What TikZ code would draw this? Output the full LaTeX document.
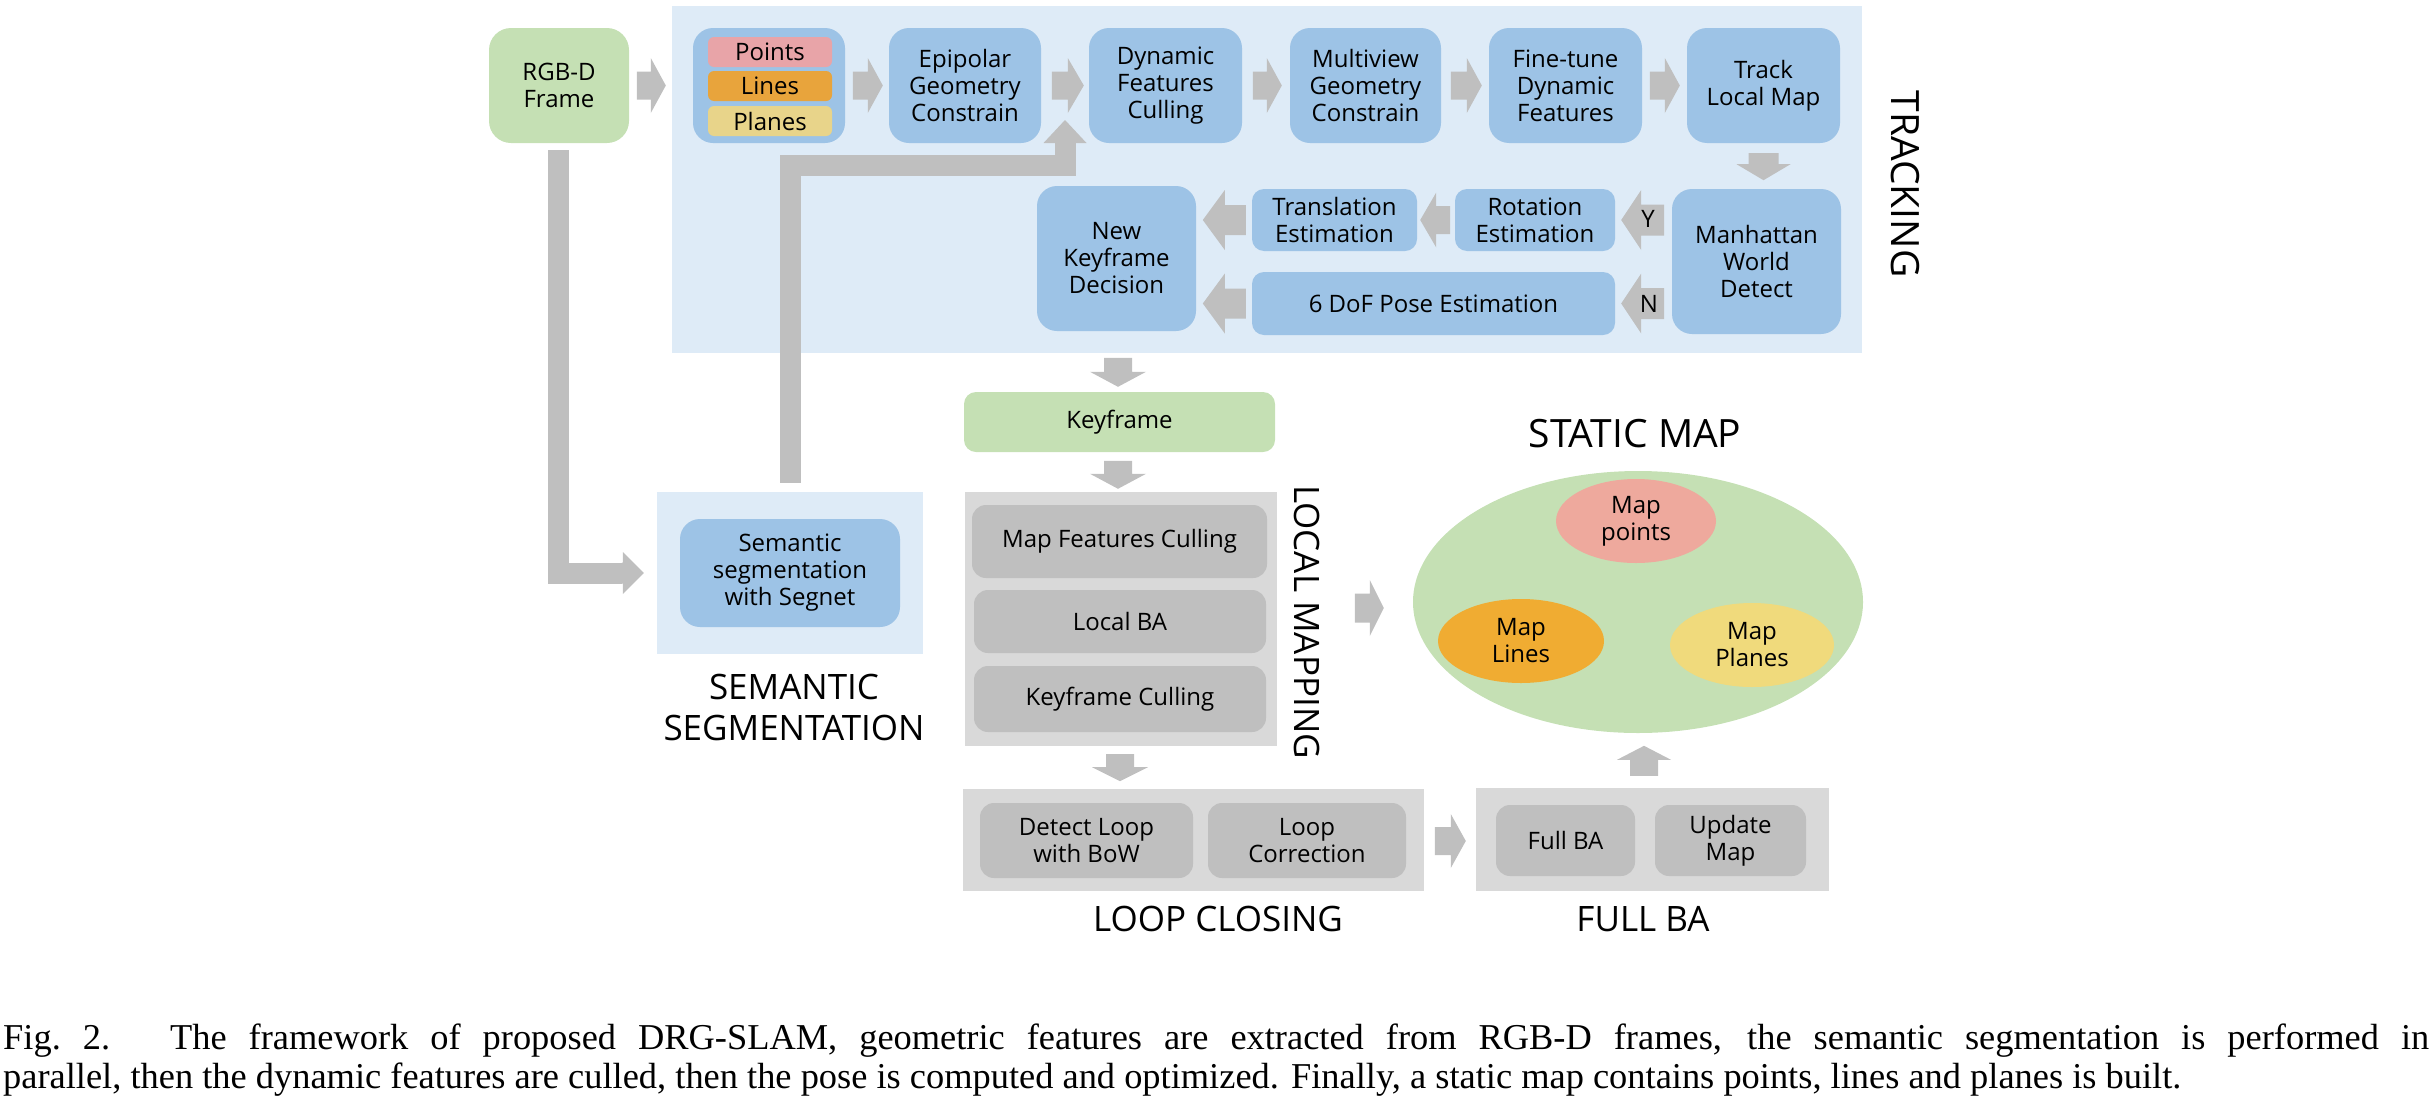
\documentclass[tikz,border=0pt]{standalone}
\usepackage{fontspec}
\setmainfont{Open Sans}
\newfontfamily\capserif{Liberation Serif}
\usetikzlibrary{calc,shapes.geometric}
\definecolor{trackbg}{HTML}{DEEBF7}
\definecolor{blueC}{HTML}{9DC3E6}
\definecolor{greenC}{HTML}{C5E0B4}
\definecolor{arrowgray}{HTML}{BFBFBF}
\definecolor{panelgray}{HTML}{D9D9D9}
\definecolor{innergray}{HTML}{BFBFBF}
\definecolor{pointsC}{HTML}{E8A4A8}
\definecolor{linesC}{HTML}{E8A43C}
\definecolor{planesC}{HTML}{E8D48A}
\definecolor{mpointsC}{HTML}{EEA99D}
\definecolor{mlinesC}{HTML}{F0AC32}
\definecolor{mplanesC}{HTML}{F0DA7C}
\newcommand{\boxfont}{\fontsize{24}{27}\selectfont}
\newcommand{\labfont}{\fontsize{35}{41}\selectfont}
\newcommand{\biglabfont}{\fontsize{39}{44}\selectfont}
% tip, angle, total length, head length, shaft half width, head half width
\newcommand{\blockarrow}[6]{%
  \fill[arrowgray, shift={#1}, rotate=#2] (0,0) -- (-#4,#6) -- (-#4,#5) -- (-#3,#5)
     -- (-#3,-#5) -- (-#4,-#5) -- (-#4,-#6) -- cycle;}
\begin{document}
\begin{tikzpicture}[x=1pt,y=-1pt,
  sz/.style 2 args={minimum width=#1pt, minimum height=#2pt},
  box/.style={inner sep=0pt, align=center, font=\boxfont, text=black},
  bluebox/.style={box, fill=blueC, rounded corners=20pt},
  smallblue/.style={box, fill=blueC, rounded corners=12pt},
  greenbox/.style={box, fill=greenC, rounded corners=22pt},
  graybox/.style={box, fill=innergray, rounded corners=14pt},
  featbox/.style={box, rounded corners=6pt},
  panel/.style={inner sep=0pt},
  lab/.style={font=\labfont, inner sep=0pt, align=center},
  biglab/.style={font=\biglabfont, inner sep=0pt},
  shaft/.style={draw=arrowgray, line width=21pt, line join=miter},
  capt/.style={anchor=base west, inner sep=0pt, font=\capserif\fontsize{36.4}{39}\selectfont}
]
\useasboundingbox (0,0) rectangle (2432,1106);

% ---------- panels ----------
\node[panel, fill=trackbg, sz={1190}{347}] (trk) at (1267,179.5) {};
\node[panel, fill=trackbg, sz={266}{162}] (sembg) at (790,573) {};
\node[panel, fill=panelgray, sz={312}{254}] (lm) at (1121,619) {};
\node[panel, fill=panelgray, sz={461}{102}] (lc) at (1193.5,840) {};
\node[panel, fill=panelgray, sz={353}{103}] (fba) at (1652.5,839.5) {};
\node[panel, ellipse, fill=greenC, sz={450}{262}] (map) at (1638,602) {};

% ---------- tracking ----------
\node[greenbox, sz={140}{115}] (rgbd) at (559,85.5) {RGB-D\\Frame};
\node[bluebox, sz={152}{115}] (grp) at (769,85.5) {};
\node[featbox, fill=pointsC, sz={124}{30}] (pts) at (770,52) {Points};
\node[featbox, fill=linesC, sz={124}{30}] (lns) at (770,86) {Lines};
\node[featbox, fill=planesC, sz={124}{30}] (pls) at (770,121) {Planes};
\node[bluebox, sz={152}{115}] (epi) at (965,85.5) {Epipolar\\Geometry\\Constrain};
\node[bluebox, sz={153}{115}] (dyn) at (1165.5,85.5) {Dynamic\\Features\\Culling};
\node[bluebox, sz={151}{115}] (mvg) at (1365.5,85.5) {Multiview\\Geometry\\Constrain};
\node[bluebox, sz={153}{115}] (fine) at (1565.5,85.5) {Fine-tune\\Dynamic\\Features};
\node[bluebox, sz={153}{115}] (track) at (1763.5,85.5) {Track\\Local Map};
\node[bluebox, sz={169}{145}] (manh) at (1756.5,261.5) {Manhattan\\World\\Detect};
\node[smallblue, sz={160}{62}] (rot) at (1535,220) {Rotation\\Estimation};
\node[smallblue, sz={165}{62}] (trans) at (1334.5,220) {Translation\\Estimation};
\node[smallblue, sz={363}{63}] (pose) at (1433.5,303.5) {6 DoF Pose Estimation};
\node[bluebox, sz={159}{145}] (nkf) at (1116.5,258.5) {New\\Keyframe\\Decision};
\node[biglab, rotate=-90] (trklab) at (1905,184) {TRACKING};

% ---------- semantic ----------
\node[bluebox, sz={220}{108}] (seg) at (790,573) {Semantic\\segmentation\\with Segnet};
\node[lab] (semlab) at (794,707) {SEMANTIC\\SEGMENTATION};

% ---------- local mapping ----------
\node[box, fill=greenC, rounded corners=12pt, sz={311}{60}] (kf) at (1119.5,422) {Keyframe};
\node[graybox, sz={295}{73}] (mfc) at (1119.5,541.5) {Map Features Culling};
\node[graybox, sz={292}{63}] (lba) at (1120,621.5) {Local BA};
\node[graybox, sz={292}{66}] (kfc) at (1120,699) {Keyframe Culling};
\node[lab, rotate=-90] (lmlab) at (1307,622) {LOCAL MAPPING};

% ---------- loop closing ----------
\node[graybox, sz={213}{75}] (det) at (1086.5,840.5) {Detect Loop\\with BoW};
\node[graybox, sz={198}{75}] (lcor) at (1307,840.5) {Loop\\Correction};
\node[lab] (lclab) at (1218,919) {LOOP CLOSING};

% ---------- full BA ----------
\node[graybox, sz={139}{71}] (fullba) at (1565.5,840.5) {Full BA};
\node[graybox, sz={151}{71}] (upd) at (1730.5,840.5) {Update\\Map};
\node[lab] (fbalab) at (1643,919) {FULL BA};

% ---------- static map ----------
\node[biglab] (smlab) at (1635,434) {STATIC MAP};
\node[box, ellipse, fill=mpointsC, sz={160}{84}] (mp) at (1636,521) {Map\\points};
\node[box, ellipse, fill=mlinesC, sz={166}{84}] (ml) at (1521,641) {Map\\Lines};
\node[box, ellipse, fill=mplanesC, sz={164}{84}] (mpl) at (1752,645) {Map\\Planes};

% ---------- arrows ----------
\blockarrow{($(grp.west)+(-27,0)$)}{0}{29}{15}{14}{27.5}
\blockarrow{($(epi.west)+(-6,0)$)}{0}{30}{15}{14}{27.5}
\blockarrow{($(dyn.west)+(-5,0)$)}{0}{32}{16}{14}{27.5}
\blockarrow{($(mvg.west)+(-8,0)$)}{0}{29}{15}{14}{27.5}
\blockarrow{($(fine.west)+(-7,0)$)}{0}{31}{15}{14}{27.5}
\blockarrow{($(track.west)+(-7,0)$)}{0}{30}{15}{14}{27.5}
\blockarrow{($(track.south)+(0,37)$)}{270}{27}{16}{15}{27}
\blockarrow{($(rot.east)+(6,0)$)}{180}{43}{20}{15.5}{30}
\blockarrow{($(pose.east)+(6,0)$)}{180}{43}{20}{15.5}{30}
\node[box] (ylab) at (1648,219) {Y};
\node[box] (nlab) at (1649,304) {N};
\blockarrow{($(trans.east)+(3,0)$)}{180}{30}{16}{14}{27.5}
\blockarrow{($(trans.west)+(-49,0)$)}{180}{43}{22}{15}{30}
\blockarrow{($(pose.west)+(-49,0)$)}{180}{43}{22}{15}{30}
\blockarrow{($(kf.north)+(-1.5,-5)$)}{270}{29}{15}{14}{28}
\blockarrow{($(lm.north)+(-3,-3)$)}{270}{28}{15}{14}{28}
\blockarrow{($(lm.south)+(-1,35)$)}{270}{27}{14}{14}{28}
\blockarrow{($(fba.west)+(-10,1.5)$)}{0}{31}{15}{14}{27}
\blockarrow{($(fba.north)+(-8.5,-42)$)}{90}{30}{14}{14}{27}
\blockarrow{($(map.west)+(-29,6)$)}{0}{29}{14}{14.5}{28}

% L-shaped arrow RGB-D -> semantic
\coordinate (rgbout) at ($(rgbd.south)+(-1,7)$);
\coordinate (semin) at ($(sembg.west)+(-13,0)$);
\draw[shaft] (rgbout) |- ($(semin)+(-22,0)$);
\blockarrow{(semin)}{0}{22}{21}{10.5}{21}

% L-shaped arrow semantic -> dynamic features culling
\coordinate (semout) at ($(sembg.north)+(0,-9)$);
\coordinate (dynin) at ($(epi.east)!0.5!(dyn.west)+(0,34.5)$);
\draw[shaft] (semout) |- ($(dynin)+(0,45.5)$) -- ($(dynin)+(0,22)$);
\blockarrow{(dynin)}{90}{24}{23}{10}{21.5}

% ---------- caption ----------
\node[capt] (cap1) at (3,1049)
  {\makebox[2426pt][s]{Fig.~2.\hspace{60pt}The framework of proposed DRG-SLAM, geometric features are extracted from RGB-D frames, the semantic segmentation is performed in}};
\node[capt] (cap2) at (3,1088)
  {parallel, then the dynamic features are culled, then the pose is computed and optimized. Finally, a static map contains points, lines and planes is built.};
\end{tikzpicture}
\end{document}
